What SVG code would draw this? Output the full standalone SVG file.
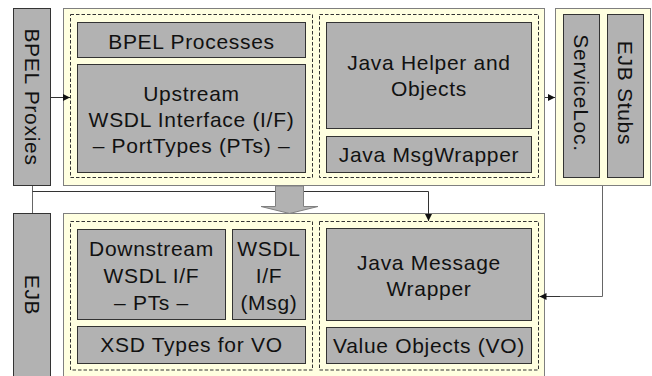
<svg xmlns="http://www.w3.org/2000/svg" width="652" height="376" viewBox="0 0 652 376">
  <defs>
    <marker id="arr" viewBox="0 0 8 8" refX="8" refY="4" markerWidth="7" markerHeight="7" markerUnits="userSpaceOnUse" orient="auto">
      <path d="M0,0 L8,4 L0,8 Z" fill="#111"/>
    </marker>
    <style>
      .panel { fill: #FFFFE0; stroke: #7f7f7f; stroke-width: 1; }
      .zone { fill: none; stroke: #333; stroke-width: 1; stroke-dasharray: 3.5 2; }
      .box { fill: #B2B2B2; stroke: #333; stroke-width: 1; }
      .bar { fill: #B2B2B2; stroke: #333; stroke-width: 1; }
      text { font-family: "Liberation Sans", Arial, sans-serif; font-size: 21px; fill: #111; text-anchor: middle; letter-spacing: 0.7px; }
      .link { fill: none; stroke: #333; stroke-width: 1; }
      .tie { fill: none; stroke: #666; stroke-width: 1; }
    </style>
  </defs>

  <rect width="652" height="376" fill="#ffffff"/>

  <!-- left vertical bars -->
  <g id="bpel-proxies">
    <rect class="bar" x="13.5" y="8.5" width="37" height="177"/>
    <text transform="translate(32,97) rotate(90)" y="7.5">BPEL Proxies</text>
  </g>
  <g id="ejb">
    <rect class="bar" x="13.5" y="213.5" width="37" height="170"/>
    <text transform="translate(32,295) rotate(90)" y="7.5">EJB</text>
  </g>

  <!-- upper tier -->
  <g id="upper-panel">
    <rect class="panel" x="63.5" y="8.5" width="481" height="177"/>
    <rect class="zone" x="70.5" y="14.5" width="242" height="163"/>
    <rect class="zone" x="319.5" y="14.5" width="219" height="163"/>
  </g>
  <g id="bpel-processes">
    <rect class="box" x="77.5" y="22.5" width="228" height="35"/>
    <text x="191.5" y="48.5">BPEL Processes</text>
  </g>
  <g id="upstream-wsdl">
    <rect class="box" x="77.5" y="64.5" width="228" height="108"/>
    <text x="191.5" y="101">Upstream</text>
    <text x="191.5" y="127">WSDL Interface (I/F)</text>
    <text x="191.5" y="153">– PortTypes (PTs) –</text>
  </g>
  <g id="java-helper">
    <rect class="box" x="326.5" y="22.5" width="205" height="106"/>
    <text x="429" y="69.5">Java Helper and</text>
    <text x="429" y="96">Objects</text>
  </g>
  <g id="java-msgwrapper">
    <rect class="box" x="326.5" y="136.5" width="205" height="36"/>
    <text x="429" y="162">Java MsgWrapper</text>
  </g>

  <!-- service locator / stubs -->
  <g id="service-panel">
    <rect class="panel" x="555.5" y="8.5" width="95" height="177"/>
  </g>
  <g id="service-loc">
    <rect class="box" x="563.5" y="14.5" width="36" height="163"/>
    <text transform="translate(581.5,93) rotate(90)" y="7.5">ServiceLoc.</text>
  </g>
  <g id="ejb-stubs">
    <rect class="box" x="607.5" y="14.5" width="36" height="163"/>
    <text transform="translate(625.5,93) rotate(90)" y="7.5">EJB Stubs</text>
  </g>

  <!-- lower tier -->
  <g id="lower-panel">
    <rect class="panel" x="63.5" y="213.5" width="481" height="170"/>
    <rect class="zone" x="70.5" y="221.5" width="242" height="148.5"/>
    <rect class="zone" x="319.5" y="221.5" width="219" height="148.5"/>
  </g>
  <g id="downstream-wsdl">
    <rect class="box" x="77.5" y="229.5" width="148" height="90"/>
    <text x="151.5" y="256">Downstream</text>
    <text x="151.5" y="283">WSDL I/F</text>
    <text x="151.5" y="310">– PTs –</text>
  </g>
  <g id="wsdl-msg">
    <rect class="box" x="232.5" y="229.5" width="73" height="90"/>
    <text x="269" y="256">WSDL</text>
    <text x="269" y="283">I/F</text>
    <text x="269" y="310">(Msg)</text>
  </g>
  <g id="xsd-types">
    <rect class="box" x="77.5" y="326.5" width="228" height="37"/>
    <text x="191.5" y="352">XSD Types for VO</text>
  </g>
  <g id="java-message-wrapper">
    <rect class="box" x="326.5" y="228.5" width="205" height="92"/>
    <text x="429" y="269.5">Java Message</text>
    <text x="429" y="296">Wrapper</text>
  </g>
  <g id="value-objects">
    <rect class="box" x="326.5" y="327.5" width="205" height="36"/>
    <text x="429" y="352.5">Value Objects (VO)</text>
  </g>

  <!-- connectors -->
  <g id="connectors">
    <line class="link" x1="51" y1="97.5" x2="70" y2="97.5" marker-end="url(#arr)"/>
    <line class="link" x1="545" y1="97.5" x2="555" y2="97.5" marker-end="url(#arr)"/>
    <line class="tie" x1="32.5" y1="186" x2="32.5" y2="213"/>
    <polyline class="link" points="32.5,191.5 428.5,191.5 428.5,221" marker-end="url(#arr)"/>
    <polyline class="tie" points="602.5,186 602.5,296.5 560,296.5"/>
    <line class="link" x1="560" y1="296.5" x2="539.5" y2="296.5" marker-end="url(#arr)"/>
    <polygon points="275.5,186 303.5,186 303.5,206.5 318,206.5 289.5,213.5 261,206.5 275.5,206.5" fill="#B2B2B2" stroke="#808080" stroke-width="1"/>
  </g>
</svg>
